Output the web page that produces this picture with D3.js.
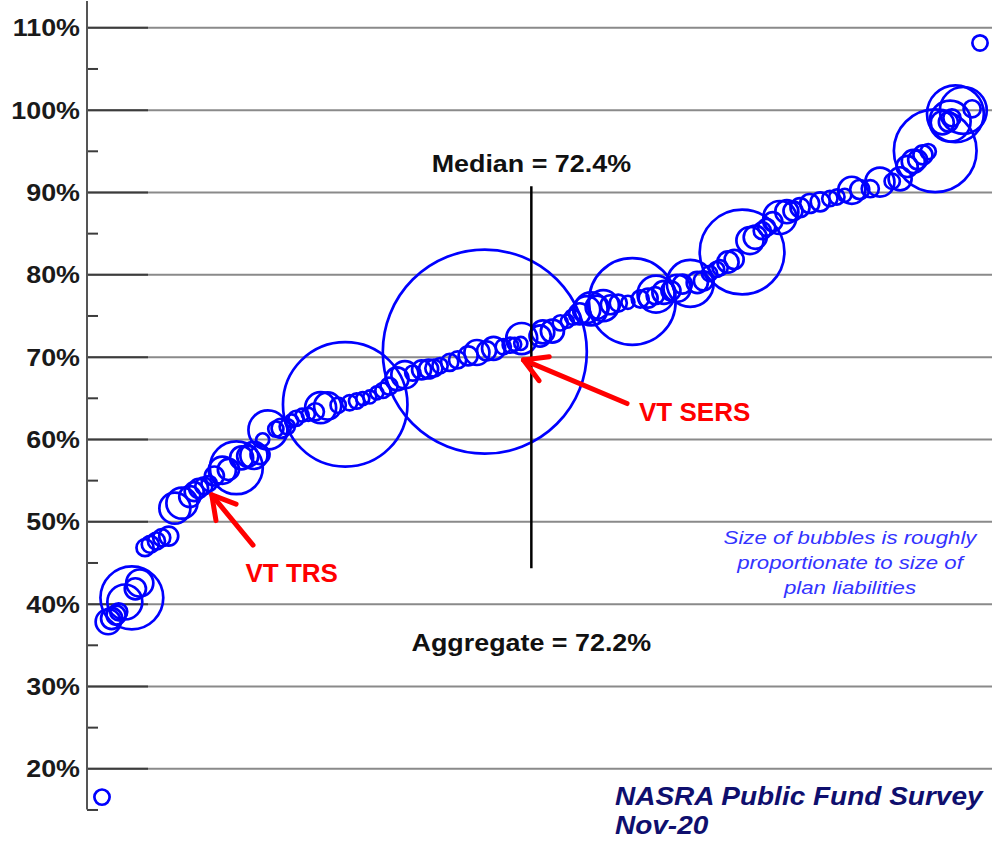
<!DOCTYPE html>
<html><head><meta charset="utf-8">
<script src="https://cdn.jsdelivr.net/npm/d3@7"></script>
<style>html,body{margin:0;padding:0;background:#fff;} svg{display:block;}</style>
</head><body><svg id="chart" width="992" height="842"></svg>
<script>
// ---- DATA (plans sorted by funded ratio) ----
// position of each plan along the ranking, as a percentile (0 = lowest, 100 = highest)
const planPercentile = [
  0, 0.7, 1.1, 1.6, 1.9, 2.6, 3.4, 3.8, 4.3, 4.9,
  5.5, 6.2, 6.8, 7.6, 8.3, 9.1, 10.0, 10.5, 11.0, 11.6,
  12.2, 12.8, 13.7, 14.4, 15.3, 15.9, 16.6, 17.3, 18.0, 18.3,
  18.9, 19.8, 20.4, 21.1, 21.6, 22.1, 22.8, 23.5, 24.3, 24.9,
  25.7, 26.9, 27.7, 28.2, 29.0, 29.7, 30.5, 31.3, 32.0, 32.7,
  33.6, 34.5, 35.4, 36.4, 37.2, 37.8, 38.5, 39.6, 40.5, 41.7,
  42.7, 43.6, 43.8, 44.6, 45.7, 46.5, 47.0, 47.7, 47.8, 49.9,
  50.2, 51.3, 52.2, 53.0, 53.6, 54.4, 55.2, 55.7, 56.4, 57.1,
  57.9, 58.8, 59.9, 60.4, 61.3, 62.2, 63.0, 63.1, 64.0, 64.8,
  65.5, 66.1, 67.0, 67.8, 68.5, 69.2, 70.0, 70.4, 71.3, 72.0,
  72.9, 73.8, 74.4, 75.2, 75.7, 76.4, 77.2, 78.0, 78.7, 79.5,
  80.6, 81.8, 82.9, 83.7, 84.6, 85.4, 86.3, 87.5, 88.6, 90.0,
  90.9, 91.7, 92.4, 92.9, 93.5, 94.1, 94.9, 95.7, 96.4, 96.6,
  96.8, 97.2, 98.1, 99.1, 100
];
// funded ratio, %
const fundedRatio = [
  16.5, 37.8, 38.2, 38.6, 39.0, 40.2, 40.7, 41.8, 42.5, 46.8,
  47.2, 47.6, 48.0, 48.2, 51.6, 52.2, 53.0, 53.6, 54.0, 54.3,
  54.6, 55.5, 56.2, 56.3, 56.5, 57.7, 57.9, 58.0, 58.1, 59.9,
  61.1, 61.2, 61.3, 61.5, 62.2, 62.5, 62.9, 63.0, 63.3, 63.8,
  64.0, 64.1, 64.2, 64.4, 64.6, 64.9, 65.1, 65.6, 65.9, 66.4,
  67.3, 67.8, 68.0, 68.4, 68.5, 68.6, 68.9, 69.3, 69.6, 70.1,
  70.5, 70.6, 70.7, 71.0, 71.2, 71.4, 71.5, 71.6, 72.2, 72.5,
  73.0, 73.1, 74.1, 74.3, 74.8, 75.2, 75.7, 75.8, 76.0, 76.2,
  76.3, 76.5, 76.6, 76.7, 77.0, 77.1, 77.4, 77.6, 77.8, 78.0,
  78.3, 78.8, 78.9, 79.0, 79.2, 80.1, 80.6, 80.8, 81.5, 81.8,
  82.7, 84.1, 84.5, 85.3, 85.7, 86.4, 86.9, 87.6, 87.7, 88.1,
  88.6, 88.8, 89.2, 89.4, 89.6, 90.2, 90.3, 90.4, 91.2, 91.3,
  91.6, 93.1, 93.7, 93.9, 94.5, 94.9, 95.0, 98.4, 98.5, 98.6,
  99.0, 99.5, 99.9, 100.1, 108.1
];
// plan liabilities, $ billions (bubble size)
const liabilities = [
  1.8, 5.9, 4.0, 3.1, 2.4, 12.5, 44.1, 4.0, 7.1, 2.4,
  2.4, 2.4, 2.4, 3.1, 9.6, 9.6, 4.0, 3.1, 3.1, 2.4,
  1.8, 3.1, 7.1, 4.0, 30.6, 4.9, 4.0, 7.1, 3.1, 1.2,
  15.9, 1.8, 3.1, 1.8, 1.2, 1.8, 1.2, 1.2, 2.4, 9.6,
  7.1, 1.8, 182.4, 1.8, 1.8, 1.2, 1.2, 1.2, 1.8, 2.4,
  4.9, 7.1, 1.8, 3.1, 3.1, 2.4, 1.8, 2.4, 2.4, 3.1,
  5.9, 500, 3.1, 4.9, 1.8, 1.8, 1.2, 1.2, 9.6, 4.0,
  4.9, 4.9, 1.8, 1.2, 1.8, 4.0, 7.1, 11.0, 4.9, 9.6,
  3.1, 2.4, 1.2, 86.5, 2.4, 3.1, 2.4, 14.2, 4.9, 3.1,
  7.1, 3.1, 23.7, 4.0, 3.1, 1.8, 1.8, 1.8, 4.0, 3.1,
  82.4, 7.1, 4.9, 2.4, 2.4, 3.1, 11.0, 4.9, 3.1, 3.1,
  3.1, 3.1, 1.8, 1.8, 1.2, 7.1, 3.1, 2.4, 8.3, 1.8,
  4.9, 4.0, 4.9, 3.1, 3.1, 1.8, 78.4, 4.9, 3.1, 17.7,
  2.4, 35.7, 23.7, 2.4, 1.8
];
const yTicks = [20, 30, 40, 50, 60, 70, 80, 90, 100, 110];
const yMinorTicks = [15, 25, 35, 45, 55, 65, 75, 85, 95, 105];
const medianValue = 72.4;
const aggregateValue = 72.2;
const medianPercentile = 48.9;          // where the median falls in the ranking
const medianLineSpan = [44.3, 90.7];    // vertical extent of the median marker (%)
// callouts: [percentile, funded %] for arrow tip and tail
const callouts = [
  {label: "VT TRS",  tip: [12.5, 53.2], tail: [17.2, 47.1], text: [21.6, 42.6]},
  {label: "VT SERS", tip: [48.0, 69.6], tail: [59.8, 64.3], text: [67.5, 62.2]}
];
const noteLines = ["Size of bubbles is roughly", "proportionate to size of", "plan liabilities"];
const sourceLines = ["NASRA Public Fund Survey", "Nov-20"];

// ---- CHART ----
const W = 992, H = 842, SX = 1.12;
const FONT = "'Liberation Sans', Arial, Helvetica, sans-serif";
const svg = d3.select('#chart');
svg.append('rect').attr('width', W).attr('height', H).attr('fill', '#fff');

const axisX = 87, rightX = 992;
const x = d3.scaleLinear().domain([0, 100]).range([102, 980]);
const y = d3.scaleLinear().domain([20, 110]).range([768.3, 27.3]);
const r = d3.scaleSqrt().domain([0, 500]).range([1.6, 102]);

// gridlines
const grid = svg.append('g').attr('transform', `translate(${axisX},0)`)
  .call(d3.axisRight(y).tickValues(yTicks).tickSize(rightX - axisX).tickFormat(''));
grid.select('.domain').remove();
grid.selectAll('line').attr('stroke', '#8a8a8a').attr('stroke-width', 2);
const gridDark = svg.append('g').attr('transform', `translate(${axisX},0)`)
  .call(d3.axisRight(y).tickValues(yTicks).tickSize(61).tickFormat(''));
gridDark.select('.domain').remove();
gridDark.selectAll('line').attr('stroke', '#3c3c3c').attr('stroke-width', 2);

// minor ticks
const minor = svg.append('g').attr('transform', `translate(${axisX},0)`)
  .call(d3.axisRight(y).tickValues(yMinorTicks).tickSize(11).tickFormat(''));
minor.select('.domain').remove();
minor.selectAll('line').attr('stroke', '#3c3c3c').attr('stroke-width', 2);

// axis line
svg.append('line').attr('x1', axisX).attr('x2', axisX)
  .attr('y1', y(113.2)).attr('y2', y(15)).attr('stroke', '#555').attr('stroke-width', 2);

// y labels
const lab = svg.append('g').attr('transform', `translate(${axisX},0)`)
  .call(d3.axisLeft(y).tickValues(yTicks).tickSize(0).tickPadding(0).tickFormat(d => d + '%'));
lab.select('.domain').remove();
lab.selectAll('text')
  .attr('x', 0).attr('dy', '0.35em')
  .attr('transform', `translate(-7,0) scale(${SX},1)`)
  .attr('font-family', FONT).attr('font-size', 24).attr('font-weight', 'bold')
  .attr('fill', '#1a1a1a');

// bubbles
const plans = planPercentile.map((p, i) => ({p, v: fundedRatio[i], L: liabilities[i]}));
svg.append('g').selectAll('circle').data(plans).join('circle')
  .attr('cx', d => x(d.p)).attr('cy', d => y(d.v)).attr('r', d => r(d.L))
  .attr('fill', 'none').attr('stroke', '#0000ff').attr('stroke-width', 2.7);

// median line
svg.append('line')
  .attr('x1', x(medianPercentile)).attr('x2', x(medianPercentile))
  .attr('y1', y(medianLineSpan[1])).attr('y2', y(medianLineSpan[0]))
  .attr('stroke', '#000').attr('stroke-width', 2.5);

function sText(px, py, str, o) {
  return svg.append('text')
    .attr('transform', `translate(${px},${py}) scale(${o.sx || SX},1)`)
    .attr('text-anchor', o.anchor || 'middle')
    .attr('font-family', FONT).attr('font-size', o.size)
    .attr('font-weight', o.weight || 'normal')
    .attr('font-style', o.style || 'normal')
    .attr('fill', o.fill || '#000')
    .text(str);
}
sText(x(medianPercentile), 172, `Median = ${medianValue}%`, {size: 24, weight: 'bold', fill: '#111'});
sText(x(medianPercentile), 651, `Aggregate = ${aggregateValue}%`, {size: 24, weight: 'bold', fill: '#111'});

// callouts
callouts.forEach(c => {
  const tx = x(c.tip[0]), ty = y(c.tip[1]);
  const sx = x(c.tail[0]), sy = y(c.tail[1]);
  const ang = Math.atan2(sy - ty, sx - tx);
  const g = svg.append('g').attr('stroke', '#ff0000').attr('stroke-width', 5)
    .attr('stroke-linecap', 'round').attr('fill', 'none');
  g.append('line').attr('x1', sx).attr('y1', sy).attr('x2', tx).attr('y2', ty);
  const L = 26, a = Math.PI / 6;
  g.append('path').attr('stroke-linejoin', 'round').attr('d', d3.line()([
    [tx + L * Math.cos(ang - a), ty + L * Math.sin(ang - a)],
    [tx, ty],
    [tx + L * Math.cos(ang + a), ty + L * Math.sin(ang + a)]
  ]));
  sText(x(c.text[0]), y(c.text[1]), c.label, {size: 26, weight: 'bold', fill: '#ff0000', sx: 1});
});

// note
noteLines.forEach((t, i) => {
  sText(850, 544 + i * 25, t, {size: 18.5, style: 'italic', fill: '#3333ff', sx: 1.2});
});
// source
sourceLines.forEach((t, i) => {
  sText(615, 805 + i * 29, t, {size: 25, weight: 'bold', style: 'italic', fill: '#0f0f6e', anchor: 'start'});
});
</script>
</body></html>
